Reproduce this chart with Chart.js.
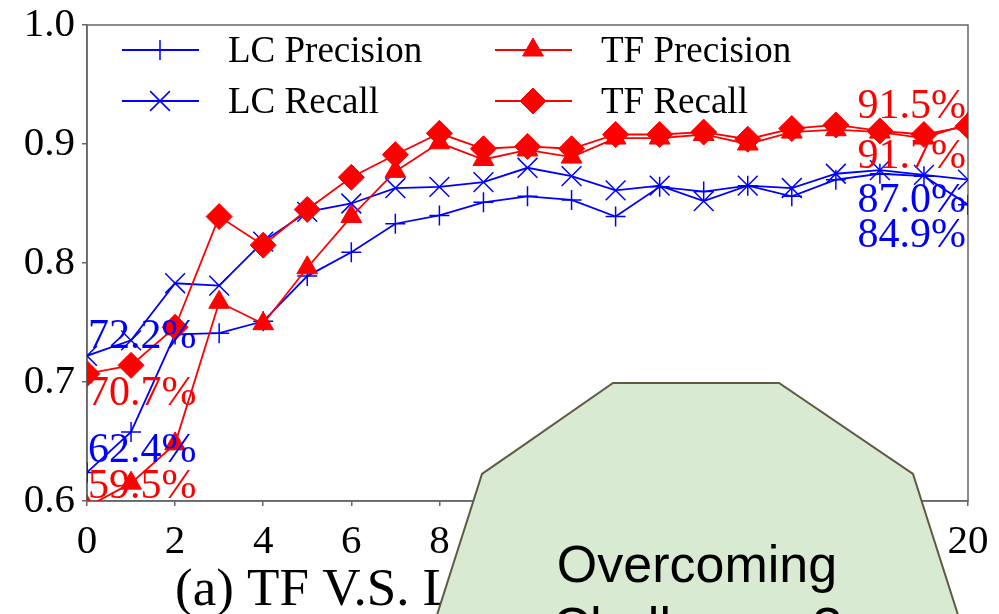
<!DOCTYPE html>
<html>
<head>
<meta charset="utf-8">
<script src="https://cdn.jsdelivr.net/npm/chart.js@4.4.1/dist/chart.umd.min.js"></script>
<style>
body { margin: 0; background: #fff; }
#wrap { position: relative; width: 999px; height: 614px; overflow: hidden; }
#wrap svg { position: absolute; left: 0; top: 0; }
</style>
</head>
<body>
<div id="wrap">
<canvas id="prChart" width="999" height="614"></canvas>
<svg width="999" height="614" viewBox="0 0 999 614">
  <polygon points="613,383 779,383 913,474 966,640 429,640 482,474" fill="#d9ead3" stroke="#5e5a44" stroke-width="2"/>
  <text x="697" y="582" text-anchor="middle" font-family="Liberation Sans, Arial, sans-serif" font-size="52" fill="#000">Overcoming</text>
  <text x="697" y="644" text-anchor="middle" font-family="Liberation Sans, Arial, sans-serif" font-size="52" fill="#000">Challenges?</text>
</svg>
</div>
<script>
// ===== Data =====

const xValues = [0, 1, 2, 3, 4, 5, 6, 7, 8, 9, 10, 11, 12, 13, 14, 15, 16, 17, 18, 19, 20];

const lcPrecision = [0.624, 0.658, 0.740, 0.741, 0.751, 0.789, 0.809, 0.833, 0.840, 0.851, 0.856,
                     0.853, 0.839, 0.864, 0.860, 0.865, 0.856, 0.870, 0.875, 0.873, 0.849];
const lcRecall    = [0.722, 0.735, 0.783, 0.781, 0.818, 0.843, 0.850, 0.863, 0.864, 0.868, 0.880,
                     0.873, 0.861, 0.865, 0.852, 0.865, 0.863, 0.875, 0.878, 0.874, 0.870];
const tfPrecision = [0.595, 0.615, 0.648, 0.767, 0.749, 0.796, 0.839, 0.877, 0.901, 0.887, 0.895,
                     0.889, 0.905, 0.905, 0.908, 0.900, 0.910, 0.912, 0.910, 0.905, 0.917];
const tfRecall    = [0.707, 0.714, 0.746, 0.839, 0.815, 0.845, 0.872, 0.891, 0.909, 0.896, 0.898,
                     0.896, 0.908, 0.908, 0.910, 0.904, 0.913, 0.916, 0.911, 0.908, 0.915];

const seriesNames = ["LC Precision", "LC Recall", "TF Precision", "TF Recall"];

const xTicks = [0, 2, 4, 6, 8, 10, 12, 14, 16, 18, 20];
const yTicks = [0.6, 0.7, 0.8, 0.9, 1.0];

const subTitle = "(a) TF V.S. LC";

// ===== Helpers =====

const serif = "'Liberation Serif', 'Times New Roman', serif";

function toPoints(values) {
    return values.map((v, i) => ({ x: xValues[i], y: v }));
}

function pct(v) {
    return (v * 100).toFixed(1) + "%";
}

function noEdgePadding(s) {
    s.paddingTop = 0;
    s.paddingBottom = 0;
    s.paddingLeft = 0;
    s.paddingRight = 0;
}

// ===== Plugins =====

const frameAndText = {
    id: "frameAndText",
    beforeDatasetsDraw(chart) {
        const { ctx, chartArea: a } = chart;
        ctx.save();
        ctx.strokeStyle = "#666";
        ctx.lineWidth = 1.5;
        ctx.strokeRect(a.left, a.top, a.right - a.left, a.bottom - a.top);
        ctx.restore();
    },
    afterDraw(chart) {
        const { ctx, chartArea: a, scales } = chart;
        const xs = scales.x, ys = scales.y;
        ctx.save();

        // legend (two columns inside the plot)
        ctx.font = "37px " + serif;
        ctx.textBaseline = "middle";
        const cols = [a.left + 35, a.left + 408];
        chart.data.datasets.forEach((ds, i) => {
            const cx = cols[Math.floor(i / 2)];
            const cy = a.top + 25 + (i % 2) * 51;
            ctx.strokeStyle = ds.borderColor;
            ctx.fillStyle = ds.pointBackgroundColor;
            ctx.lineWidth = ds.borderWidth;
            ctx.beginPath();
            ctx.moveTo(cx, cy);
            ctx.lineTo(cx + 77, cy);
            ctx.stroke();
            ctx.lineWidth = ds.pointBorderWidth;
            Chart.helpers.drawPoint(ctx, {
                pointStyle: ds.pointStyle,
                radius: ds.pointRadius,
                rotation: 0,
                borderWidth: ds.pointBorderWidth
            }, cx + 38, cy);
            ctx.fillStyle = "#000";
            ctx.fillText(seriesNames[i], cx + 106, cy + 2);
        });

        // start / end value labels
        ctx.font = "42px " + serif;
        ctx.textBaseline = "alphabetic";
        const series = [lcPrecision, lcRecall, tfPrecision, tfRecall];
        const colors = ["blue", "blue", "red", "red"];
        const startShift = [-10, -8, -9, 31];
        const endShift = [42, 32, 44, -8];
        const last = xValues.length - 1;
        series.forEach((vals, i) => {
            ctx.fillStyle = colors[i];
            ctx.textAlign = "left";
            ctx.fillText(pct(vals[0]), xs.getPixelForValue(xValues[0]) + 1,
                ys.getPixelForValue(vals[0]) + startShift[i]);
            ctx.textAlign = "right";
            ctx.fillText(pct(vals[last]), xs.getPixelForValue(xValues[last]) - 2,
                ys.getPixelForValue(vals[last]) + endShift[i]);
        });

        // subplot caption
        ctx.fillStyle = "#000";
        ctx.textAlign = "left";
        ctx.font = "53px " + serif;
        ctx.fillText(subTitle, 175, 605);
        ctx.restore();
    }
};

// ===== Chart =====

const chart = document.getElementById("prChart");

new Chart(chart, {
    type: "line",
    data: {
        datasets: [
            {
                label: seriesNames[0],
                data: toPoints(lcPrecision),
                borderColor: "blue",
                backgroundColor: "blue",
                pointBackgroundColor: "blue",
                pointBorderColor: "blue",
                borderWidth: 1.8,
                pointStyle: "cross",
                pointRadius: 10,
                pointBorderWidth: 1.5,
                order: 4
            },
            {
                label: seriesNames[1],
                data: toPoints(lcRecall),
                borderColor: "blue",
                backgroundColor: "blue",
                pointBackgroundColor: "blue",
                pointBorderColor: "blue",
                borderWidth: 1.8,
                pointStyle: "crossRot",
                pointRadius: 14,
                pointBorderWidth: 1.5,
                order: 3
            },
            {
                label: seriesNames[2],
                data: toPoints(tfPrecision),
                borderColor: "red",
                backgroundColor: "red",
                pointBackgroundColor: "red",
                pointBorderColor: "red",
                borderWidth: 1.8,
                pointStyle: "triangle",
                pointRadius: 12,
                pointBorderWidth: 1,
                order: 2
            },
            {
                label: seriesNames[3],
                data: toPoints(tfRecall),
                borderColor: "red",
                backgroundColor: "red",
                pointBackgroundColor: "red",
                pointBorderColor: "red",
                borderWidth: 1.8,
                pointStyle: "rectRot",
                pointRadius: 13,
                pointBorderWidth: 1,
                order: 1
            }
        ]
    },
    options: {
        responsive: false,
        animation: false,
        layout: { padding: { top: 25, right: 31, left: 0, bottom: 0 } },
        plugins: {
            legend: { display: false },
            tooltip: { enabled: false }
        },
        elements: { line: { tension: 0, fill: false } },
        scales: {
            x: {
                type: "linear",
                min: 0,
                max: 20,
                afterBuildTicks: s => { s.ticks = xTicks.map(v => ({ value: v })); },
                afterFit: s => { s.height = 113; noEdgePadding(s); },
                grid: { drawOnChartArea: false, tickLength: 5, color: "#666", lineWidth: 1.5 },
                border: { color: "#666", width: 1.5 },
                ticks: {
                    color: "#000",
                    padding: 12,
                    maxRotation: 0,
                    font: { family: serif, size: 41 }
                }
            },
            y: {
                type: "linear",
                min: 0.6,
                max: 1.0,
                afterBuildTicks: s => { s.ticks = yTicks.map(v => ({ value: v })); },
                afterFit: s => { s.width = 87; noEdgePadding(s); },
                grid: { drawOnChartArea: false, tickLength: 5, color: "#666", lineWidth: 1.5 },
                border: { color: "#666", width: 1.5 },
                ticks: {
                    color: "#000",
                    padding: 7,
                    callback: v => v.toFixed(1),
                    font: { family: serif, size: 41 }
                }
            }
        }
    },
    plugins: [frameAndText]
});
</script>
</body>
</html>
